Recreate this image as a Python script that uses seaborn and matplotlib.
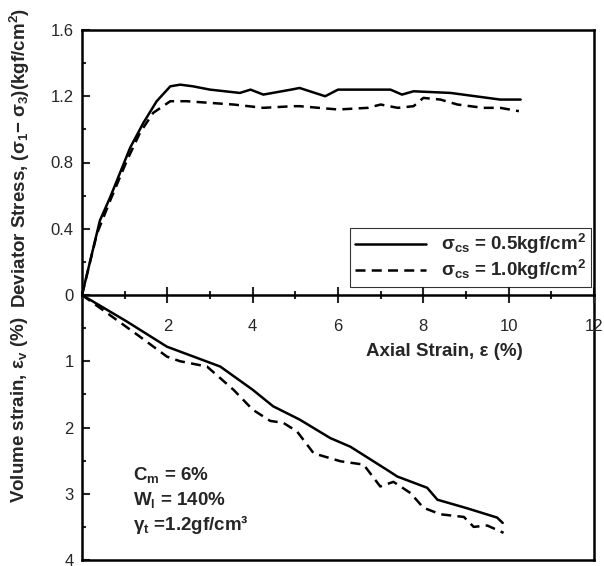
import matplotlib
matplotlib.use("Agg")
import matplotlib.pyplot as plt
import seaborn as sns
import pandas as pd
from matplotlib.ticker import MultipleLocator

sns.set_style("ticks")
plt.rcParams['font.family'] = ['Liberation Sans', 'DejaVu Sans']
plt.rcParams['mathtext.default'] = 'regular'

# Deviator stress, sigma_cs = 0.5
strain_q_a = [0, 0.42, 0.66, 1.13, 1.44, 1.75, 2.07, 2.3, 2.6, 3.0, 3.7, 3.95, 4.25, 4.9, 5.1,
              5.7, 6.0, 6.7, 7.23, 7.5, 7.77, 8.64, 9.8, 10.28]
q_a = [0, 0.45, 0.59, 0.89, 1.04, 1.17, 1.26, 1.27, 1.26, 1.24, 1.22, 1.24, 1.21, 1.24, 1.25,
       1.20, 1.24, 1.24, 1.24, 1.21, 1.23, 1.22, 1.18, 1.18]
# Deviator stress, sigma_cs = 1.0
strain_q_b = [0, 0.35, 0.66, 1.05, 1.36, 1.67, 2.07, 2.45, 3.55, 4.25, 4.95, 5.1, 6.0, 6.7, 7.0,
              7.4, 7.77, 8.0, 8.4, 8.8, 9.4, 9.8, 10.24]
q_b = [0, 0.37, 0.57, 0.81, 0.98, 1.10, 1.17, 1.17, 1.15, 1.13, 1.14, 1.14, 1.12, 1.13, 1.15,
       1.13, 1.14, 1.19, 1.18, 1.15, 1.13, 1.13, 1.11]
# Volume strain, sigma_cs = 0.5
strain_v_a = [0, 1.05, 1.99, 3.24, 4.0, 4.48, 5.1, 5.82, 6.29, 7.15, 7.39, 8.09, 8.33, 9.03, 9.73, 9.86]
ev_a = [0, 0.40, 0.78, 1.08, 1.43, 1.68, 1.88, 2.16, 2.29, 2.64, 2.74, 2.91, 3.09, 3.22, 3.36, 3.44]
# Volume strain, sigma_cs = 1.0
strain_v_b = [0, 1.36, 1.99, 2.3, 2.93, 3.55, 4.0, 4.41, 4.72, 5.04, 5.43, 6.06, 6.6, 6.99, 7.3,
              7.7, 8.0, 8.4, 8.95, 9.18, 9.5, 9.88]
ev_b = [0, 0.63, 0.93, 1.0, 1.08, 1.43, 1.73, 1.9, 1.93, 2.06, 2.39, 2.51, 2.56, 2.89, 2.82,
        2.99, 3.21, 3.31, 3.35, 3.5, 3.48, 3.59]

labels = ["σ$_{cs}$ = 0.5kgf/cm$^2$", "σ$_{cs}$ = 1.0kgf/cm$^2$"]
q_ticks = [0, 0.4, 0.8, 1.2, 1.6]
q_ticklabels = ["0", "0.4", "0.8", "1.2", "1.6"]
ev_ticks = [1, 2, 3, 4]
ev_ticklabels = ["1", "2", "3", "4"]
x_ticks = [2, 4, 6, 8, 10, 12]
x_ticklabels = ["2", "4", "6", "8", "10", "12"]
notes = ["C$_m$ = 6%", "W$_l$ = 140%", "γ$_t$ =1.2gf/cm³"]

fig = plt.figure(figsize=(6.04, 5.66), dpi=100)
L, W = 82 / 604, 512 / 604
mid = 1 - 295 / 566
H = (295 - 30) / 566
ax2 = fig.add_axes([L, mid - H, W, H])
ax1 = fig.add_axes([L, mid, W, H], sharex=ax2)
ax1.set_zorder(3)
ax1.patch.set_visible(False)

lw = 1.8
dash = (0, (4, 2.5))
sns.lineplot(x=strain_q_a, y=q_a, ax=ax1, color='black', lw=lw, label=labels[0])
sns.lineplot(x=strain_q_b, y=q_b, ax=ax1, color='black', lw=lw, linestyle=dash, label=labels[1])
sns.lineplot(x=strain_v_a, y=ev_a, ax=ax2, color='black', lw=lw)
sns.lineplot(x=strain_v_b, y=ev_b, ax=ax2, color='black', lw=lw, linestyle=dash)

ax1.set_xlim(0, 12)
ax1.set_ylim(0, 1.6)
ax2.set_ylim(4, 0)

for ax in (ax1, ax2):
    for s in ax.spines.values():
        s.set_linewidth(1.8)
        s.set_color('black')
ax2.spines['top'].set_visible(False)

ax1.set_yticks(q_ticks, q_ticklabels)
ax1.yaxis.set_minor_locator(MultipleLocator(0.2))
ax2.set_yticks(ev_ticks, ev_ticklabels)
ax2.yaxis.set_minor_locator(MultipleLocator(0.5))
for ax in (ax1, ax2):
    ax.tick_params(axis='y', which='major', direction='in', length=6, width=1.5, labelsize=12, pad=6)
    ax.tick_params(axis='y', which='minor', direction='in', length=3, width=1.5)
    ax.set_xlabel('')
    ax.set_ylabel('')

ax2.tick_params(axis='x', which='both', bottom=False, labelbottom=False)
ax1.set_xticks(x_ticks, x_ticklabels)
ax1.xaxis.set_minor_locator(MultipleLocator(1))
ax1.tick_params(axis='x', which='major', direction='inout', length=12, width=1.5, labelsize=12,
                pad=11, bottom=True, labelbottom=True)
ax1.tick_params(axis='x', which='minor', direction='inout', length=6, width=1.5, bottom=True)

bold = 13.5
ax2.text(8.5, 0.86, "Axial Strain, ε (%)", ha='center', va='center', fontsize=bold, fontweight='bold')

for i, t in enumerate(notes):
    ax2.text(1.2, 2.71 + 0.38 * i, t, ha='left', va='center', fontsize=bold, fontweight='bold')

leg = ax1.legend(loc='lower right', bbox_to_anchor=(0.994, 0.03), borderaxespad=0,
                 frameon=True, fancybox=False, edgecolor='black', handlelength=3.8,
                 prop={'size': bold, 'weight': 'bold'}, borderpad=0.25, labelspacing=0.1,
                 handletextpad=0.8)
leg.get_frame().set_linewidth(0.8)

fig.text(20 / 604, 1 - 158 / 566, "Deviator Stress, (σ$_1$− σ$_3$)(kgf/cm$^2$)", rotation=90,
         ha='center', va='center', fontsize=bold, fontweight='bold')
fig.text(20 / 604, 1 - 410 / 566, "Volume strain, ε$_v$ (%)", rotation=90,
         ha='center', va='center', fontsize=bold, fontweight='bold')

fig.savefig("out.png", dpi=100)
